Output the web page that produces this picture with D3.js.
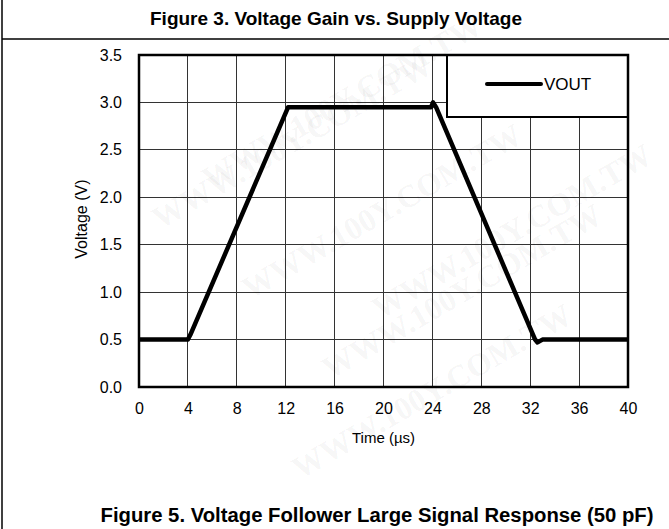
<!DOCTYPE html>
<html lang="en">
<head>
    <meta charset="UTF-8">
    <title>Voltage Follower Large Signal Response</title>
    <script src="https://d3js.org/d3.v7.min.js"></script>
    <style>
        body { margin: 0; background: #fff; }
        svg { display: block; font-family: 'Liberation Sans', Arial, sans-serif; }
        .grid line { stroke: #333; stroke-width: 1; shape-rendering: crispEdges; }
        .axis text { font-size: 16px; fill: #000; }
        .axis path, .axis line { display: none; }
    </style>
</head>
<body>
<div id="chart"></div>
<script>
// trace
const timeUs  = [0, 4.0, 4.2, 12.2, 23.9, 24.05, 24.3, 32.4, 32.6, 33.0, 40];
const voltage = [0.5, 0.5, 0.55, 2.95, 2.95, 3.0, 2.95, 0.5, 0.47, 0.5, 0.5];
const xTicks = [0, 4, 8, 12, 16, 20, 24, 28, 32, 36, 40];
const yTicks = [0, 0.5, 1.0, 1.5, 2.0, 2.5, 3.0, 3.5];
const seriesName = 'VOUT';

const W = 669, H = 529;
const svg = d3.select('#chart').append('svg').attr('width', W).attr('height', H);

// frame lines of the page
svg.append('line').attr('x1', 2).attr('x2', 2).attr('y1', 0).attr('y2', H)
    .attr('stroke', '#000').attr('stroke-width', 1.5);
svg.append('line').attr('x1', 2).attr('x2', W).attr('y1', 39).attr('y2', 39)
    .attr('stroke', '#000').attr('stroke-width', 1.5);

svg.append('text').attr('x', 336).attr('y', 25).attr('text-anchor', 'middle')
    .style('font-size', '19px').style('font-weight', 'bold')
    .text('Figure 3. Voltage Gain vs. Supply Voltage');
svg.append('text').attr('x', 377).attr('y', 522).attr('text-anchor', 'middle')
    .style('font-size', '20.3px').style('font-weight', 'bold')
    .text('Figure 5. Voltage Follower Large Signal Response (50 pF)');

const m = { left: 139, right: 628, top: 55, bottom: 387 };
const x = d3.scaleLinear().domain([0, 40]).range([m.left, m.right]);
const y = d3.scaleLinear().domain([0, 3.5]).range([m.bottom, m.top]);

// grid
const grid = svg.append('g').attr('class', 'grid');
grid.selectAll('.gx').data(xTicks.slice(1, -1)).enter().append('line')
    .attr('x1', d => x(d)).attr('x2', d => x(d)).attr('y1', m.top).attr('y2', m.bottom);
grid.selectAll('.gy').data(yTicks.slice(1, -1)).enter().append('line')
    .attr('y1', d => y(d)).attr('y2', d => y(d)).attr('x1', m.left).attr('x2', m.right);

// axes labels
svg.append('g').attr('class', 'axis')
    .attr('transform', `translate(0,${m.bottom + 8})`)
    .call(d3.axisBottom(x).tickValues(xTicks).tickSize(0).tickPadding(8).tickFormat(d3.format('d')));
svg.append('g').attr('class', 'axis')
    .attr('transform', `translate(${m.left - 9},0)`)
    .call(d3.axisLeft(y).tickValues(yTicks).tickSize(0).tickPadding(8).tickFormat(d3.format('.1f')));

svg.append('text').attr('x', x(20)).attr('y', 443).attr('text-anchor', 'middle')
    .style('font-size', '15px').text('Time (\u00b5s)');
svg.append('text').attr('transform', `translate(87,${y(1.77)}) rotate(-90)`).attr('text-anchor', 'middle')
    .style('font-size', '16px').text('Voltage (V)');

// legend box
const lg = svg.append('g');
lg.append('rect').attr('x', 447).attr('y', m.top).attr('width', m.right - 447).attr('height', 62)
    .attr('fill', '#fff').attr('stroke', '#000').attr('stroke-width', 2);
lg.append('line').attr('x1', 487).attr('x2', 541).attr('y1', 84).attr('y2', 84)
    .attr('stroke', '#000').attr('stroke-width', 4).attr('stroke-linecap', 'round');
lg.append('text').attr('x', 544).attr('y', 90).style('font-size', '17px').text(seriesName);

// trace
const pts = timeUs.map((t, i) => [t, voltage[i]]);
svg.append('path').datum(pts)
    .attr('fill', 'none').attr('stroke', '#000').attr('stroke-width', 4.5)
    .attr('stroke-linejoin', 'round')
    .attr('d', d3.line().x(d => x(d[0])).y(d => y(d[1])));

// plot border
svg.append('rect').attr('x', m.left).attr('y', m.top)
    .attr('width', m.right - m.left).attr('height', m.bottom - m.top)
    .attr('fill', 'none').attr('stroke', '#000').attr('stroke-width', 2.5);

// faint watermark, drawn over everything
const wm = svg.append('g').attr('fill', '#000').attr('fill-opacity', 0.05)
    .style('font-family', "'Liberation Serif', serif").style('font-weight', 'bold').style('font-size', '32px');
[[160, 230], [250, 300], [330, 380], [300, 480], [380, 320], [210, 190]].forEach(p => {
    wm.append('text').attr('transform', `translate(${p[0]},${p[1]}) rotate(-30)`).text('WWW.100Y.COM.TW');
});
</script>
</body>
</html>
